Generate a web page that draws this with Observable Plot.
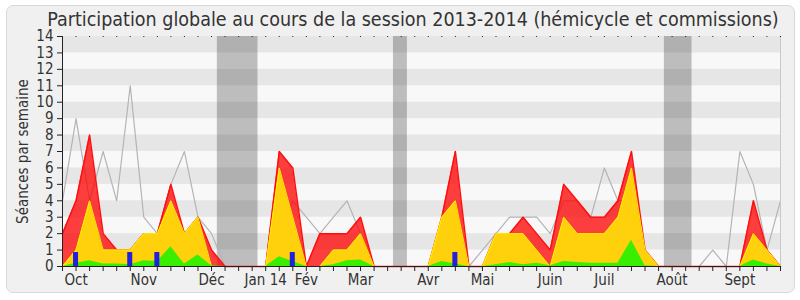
<!DOCTYPE html>
<html><head><meta charset="utf-8">
<script src="https://cdn.jsdelivr.net/npm/d3@7"></script>
<script src="https://cdn.jsdelivr.net/npm/@observablehq/plot@0.6"></script>
<style>
html,body{margin:0;padding:0;background:#fff;}
#wrap{position:relative;width:800px;height:300px;overflow:hidden;font-family:"DejaVu Sans Condensed","DejaVu Sans",sans-serif;font-stretch:condensed;}
#frame{position:absolute;left:6px;top:5px;width:787px;height:286px;border:1px solid #d9d9d9;border-radius:7px;background:#f0f0f0;}
#title{position:relative;height:30px;line-height:40px;font-size:19.5px;color:#333;text-align:center;padding-left:26px;box-sizing:border-box;white-space:nowrap;}
#chart{position:relative;}
</style></head>
<body><div id="wrap"><div id="frame"></div><div id="title">Participation globale au cours de la session 2013-2014 (hémicycle et commissions)</div><div id="chart"></div></div>
<script>
// weekly data, week index 0..53
const weeks = d3.range(54);
const presences = [2,4,8,2,1,1,2,2,5,2,3,1,0,0,0,0,7,6,0,2,2,2,3,0,0,0,0,0,3,7,0,0,2,2,3,2,1,5,4,3,3,4,7,1,0,0,0,0,0,0,0,4,1,0];
const participations = [0,1,4,1,1,1,2,2,4,2,3,0,0,0,0,0,6,3,0,0,1,1,2,0,0,0,0,0,3,4,0,0,2,2,2,1,0,3,2,2,2,3,6,1,0,0,0,0,0,0,0,2,1,0];
const interventions = [0,0.2,0.35,0.15,0.15,0.1,0.35,0.3,1.2,0.15,0.7,0.05,0,0,0,0,0.6,0.3,0,0,0.1,0.35,0.4,0,0,0,0,0,0.3,0.15,0,0,0.1,0.25,0.1,0.2,0.05,0.3,0.25,0.2,0.2,0.2,1.6,0.05,0,0,0,0,0,0,0,0.4,0.15,0];
const mediane = [4,9,4,7,4,11,3,2,5,7,3,2,0,0,0,0,2,4,3,2,3,4,2,0,0,0,0,0,2,3,0,1,2,3,3,3,2,4,4,3,6,4,4,0,0,0,0,0,1,0,7,5,1,4];
const questionWeeks = [1,5,7,17,29];
const questionValues = [0.85,0.85,0.85,0.85,0.85];
const vacStart = [11.43,24.43,44.43];
const vacEnd = [14.43,25.46,46.47];
const monthWeeks = [1,6,11,15,18,22,27,31,36,40,45,50];
const monthLabels = ["Oct","Nov","Déc","Jan 14","Fév","Mar","Avr","Mai","Juin","Juil","Août","Sept"];
const yTicks = d3.range(0,15);
const yMax = 14;

const data = weeks.map((w,i)=>({w, red: presences[i], yellow: participations[i], green: interventions[i], gray: mediane[i]}));
const stripes = yTicks.filter(v => v % 2 === 1).map(v => ({y1: v, y2: v+1}));
const vac = vacStart.map((s,i)=>({x1: s, x2: vacEnd[i]}));
const qs = questionWeeks.map((w,i)=>({w, v: questionValues[i]}));
const monthMap = new Map(monthWeeks.map((w,i)=>[w, monthLabels[i]]));
const x0 = weeks[0], x1 = weeks[weeks.length-1];
const font = '"DejaVu Sans Condensed","DejaVu Sans",sans-serif';

const chart = Plot.plot({
  width: 800, height: 270,
  marginLeft: 62, marginRight: 20, marginTop: 6, marginBottom: 34,
  style: {background: "transparent", fontFamily: font, fontSize: "15px", color: "#333", overflow: "visible", fontStretch: "condensed"},
  x: {domain: [x0, x1], axis: null},
  y: {domain: [0, yMax], axis: null},
  marks: [
    Plot.rect([{}], {x1: x0, x2: x1, y1: 0, y2: yMax, fill: "#f8f8f8"}),
    Plot.rect(stripes, {x1: x0, x2: x1, y1: "y1", y2: "y2", fill: "#e6e6e6"}),
    Plot.rect(vac, {x1: "x1", x2: "x2", y1: 0, y2: yMax, fill: "#000", fillOpacity: 0.235}),
    Plot.lineY(data, {x: "w", y: "gray", stroke: "#b4b4b4", strokeWidth: 1.2}),
    Plot.areaY(data, {x: "w", y: "red", fill: "#ff0000", fillOpacity: 0.75}),
    Plot.lineY(data, {x: "w", y: "red", stroke: "#ff1010", strokeWidth: 1.5}),
    Plot.areaY(data, {x: "w", y: "yellow", fill: "#ffd60a", fillOpacity: 0.97}),
    Plot.lineY(data, {x: "w", y: "yellow", stroke: "#ffee00", strokeWidth: 1}),
    Plot.areaY(data, {x: "w", y: "green", fill: "#33ee00", fillOpacity: 0.97}),
    Plot.ruleX(qs, {x: "w", y1: 0, y2: "v", stroke: "#2020dd", strokeWidth: 5, dx: -0.5}),
    Plot.ruleX([x1], {stroke: "#c8c8c8"}),
    Plot.ruleY([0], {stroke: "#222"}),
    Plot.ruleX([x0], {stroke: "#222"}),
    Plot.axisY({ticks: yTicks, tickSize: 5, tickPadding: 4, fontSize: 15, stroke: "#222", label: "Séances par semaine", labelAnchor: "center", labelOffset: 45, labelArrow: "none"}),
    Plot.axisX({ticks: weeks, tickSize: 5, tickPadding: 3, fontSize: 15, stroke: "#222", tickFormat: w => monthMap.get(w) ?? "", label: null}),
    Plot.axisX({anchor: "top", ticks: weeks, tickSize: 1, stroke: "#222", tickFormat: () => "", label: null})
  ]
});
document.getElementById("chart").appendChild(chart);
</script>
</body></html>
